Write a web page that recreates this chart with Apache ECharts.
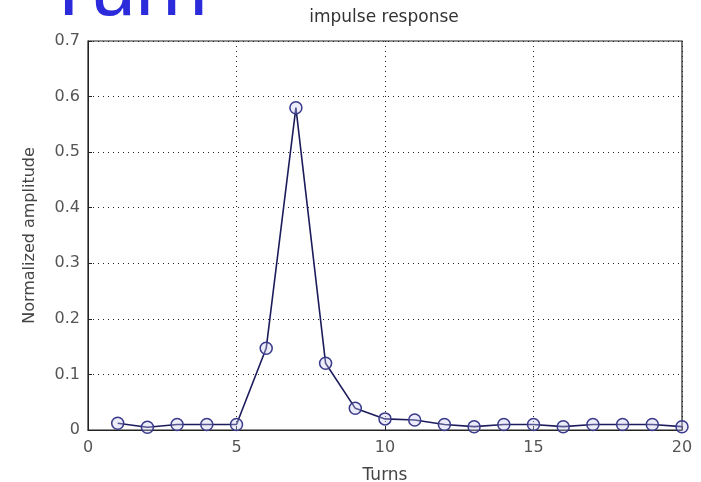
<!DOCTYPE html>
<html><head><meta charset="utf-8">
<script src="https://cdn.jsdelivr.net/npm/echarts@6/dist/echarts.min.js"></script>
<style>html,body{margin:0;padding:0;background:#fff}#c{width:701px;height:482px}</style>
</head><body><div id="c"></div>
<script>
const turns = [1,2,3,4,5,6,7,8,9,10,11,12,13,14,15,16,17,18,19,20];
const amplitude = [0.012,0.005,0.01,0.01,0.01,0.147,0.58,0.12,0.039,0.02,0.018,0.01,0.006,0.01,0.01,0.006,0.01,0.01,0.01,0.006];
const xTicks = [0,5,10,15,20];
const yTicks = [0,0.1,0.2,0.3,0.4,0.5,0.6,0.7];

const chart = echarts.init(document.getElementById('c'), null, {renderer:'canvas'});
const font = 'DejaVu Sans';
const gridDotted = {show:true, lineStyle:{color:'#222', type:[1,4], width:1}};
chart.setOption({
  animation:false,
  backgroundColor:'#fff',
  graphic:[
    {type:'text', left:44, top:-48, style:{text:'Turn', fontFamily:'Liberation Sans', fontSize:81, fill:'#2b2bdc'}},
    {type:'text', x:384, y:18, style:{text:'impulse response', fontFamily:font, fontSize:17, fill:'#333', align:'center', verticalAlign:'middle'}}
  ],
  grid:{left:88, right:19, top:41, bottom:52, show:true, borderColor:'#222', borderWidth:1.2, outerBoundsMode:'none', containLabel:false},
  xAxis:{type:'value', min:0, max:20, interval:5,
    name:'Turns', nameLocation:'middle', nameGap:37, nameTextStyle:{fontFamily:font, fontSize:17, color:'#444'},
    axisLine:{show:true, lineStyle:{color:'#222'}}, axisTick:{show:true, inside:true, length:4, lineStyle:{color:'#222'}},
    axisLabel:{fontFamily:font, fontSize:16, color:'#555', margin:10, customValues:xTicks},
    splitLine:gridDotted},
  yAxis:{type:'value', min:0, max:0.7, interval:0.1,
    name:'Normalized amplitude', nameLocation:'middle', nameGap:50, nameTextStyle:{fontFamily:font, fontSize:16, color:'#444'},
    axisLine:{show:true, lineStyle:{color:'#222'}}, axisTick:{show:true, inside:true, length:4, lineStyle:{color:'#222'}},
    axisLabel:{fontFamily:font, fontSize:16, color:'#555', margin:8, formatter:v=>String(Math.round(v*10)/10)},
    splitLine:gridDotted},
  series:[{type:'line', data:turns.map((t,i)=>[t,amplitude[i]]),
    symbol:'circle', symbolSize:12, showAllSymbol:true,
    lineStyle:{color:'#1c1c5c', width:1.6},
    itemStyle:{color:'rgba(200,200,240,0.35)', borderColor:'#3a3a8a', borderWidth:1.5}}]
});
</script></body></html>
